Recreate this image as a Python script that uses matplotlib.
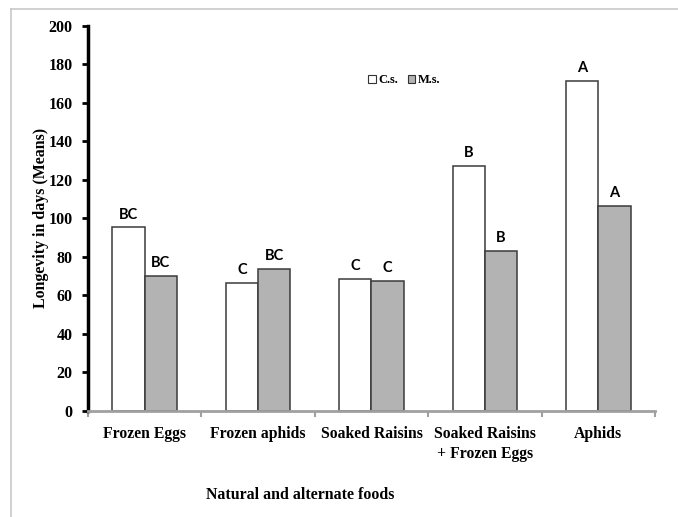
import numpy as np
import matplotlib.pyplot as plt
from matplotlib.lines import Line2D
from matplotlib.patches import Patch

# Data
foods = ["Frozen Eggs", "Frozen aphids", "Soaked Raisins",
         "Soaked Raisins\n+ Frozen Eggs", "Aphids"]
cs_means = [95.3, 66.4, 68.6, 127.2, 171.4]
ms_means = [70.2, 73.8, 67.4, 83.2, 106.6]
cs_letters = ["BC", "C", "C", "B", "A"]
ms_letters = ["BC", "BC", "C", "B", "A"]
series_names = ["C.s.", "M.s."]

W, H = 678, 517
fig = plt.figure(figsize=(W / 100, H / 100), dpi=100)
ax = fig.add_axes([88 / W, 1 - 410.6 / H, (655 - 88) / W, (410.6 - 26) / H])

x = np.arange(len(foods))
bw = 0.285
ax.bar(x - bw / 2, cs_means, bw, color="white", edgecolor="#3a3a3a", linewidth=1.1)
ax.bar(x + bw / 2, ms_means, bw, color="#b3b3b3", edgecolor="#3a3a3a", linewidth=1.1)

letter_font = dict(family="Lato", weight="bold", size=10.5, ha="center", va="bottom")
for i in range(len(foods)):
    ax.text(x[i] - bw / 2, cs_means[i] + 3, cs_letters[i], **letter_font)
    ax.text(x[i] + bw / 2, ms_means[i] + 3, ms_letters[i], **letter_font)

ax.set_xlim(-0.5, len(foods) - 0.5)
ax.set_ylim(0, 200)
ax.set_yticks(np.arange(0, 201, 20))

serif = dict(family="Liberation Serif", weight="bold")
ax.set_yticklabels([str(v) for v in range(0, 201, 20)], fontsize=11.5, **serif)

# category labels centred under groups, boundary ticks between groups
ax.set_xticks(np.arange(-0.5, len(foods)))
ax.set_xticklabels([])
ax.set_xticks(x, minor=True)
ax.set_xticklabels(foods, minor=True, fontsize=11.3, va="top", ha="center",
                   linespacing=1.35, **serif)
ax.tick_params(axis="x", which="minor", length=0, pad=11)
ax.tick_params(axis="x", which="major", length=4, width=1.5, color="#a0a0a0",
               direction="out")
ax.tick_params(axis="y", length=4, width=2, color="black", direction="out", pad=7)

for s in ["top", "right"]:
    ax.spines[s].set_visible(False)
ax.spines["left"].set_linewidth(2.5)
ax.spines["left"].set_color("black")
ax.spines["bottom"].set_linewidth(2)
ax.spines["bottom"].set_color("#a0a0a0")

ax.set_ylabel("Longevity in days (Means)", fontsize=11.4, labelpad=0, **serif)
fig.text(300 / W, 1 - 495 / H, "Natural and alternate foods", ha="center",
         va="center", fontsize=11.4, **serif)

handles = [Patch(facecolor="white", edgecolor="#333333", linewidth=0.8),
           Patch(facecolor="#b3b3b3", edgecolor="#333333", linewidth=0.8)]
ax.legend(handles, series_names, loc="center left",
          bbox_to_anchor=((362 - 88) / (655 - 88), (410.6 - 80) / (410.6 - 26)),
          ncol=2, frameon=False, handlelength=0.6, handleheight=0.6,
          handletextpad=0.2, columnspacing=0.8, borderpad=0,
          prop=dict(family="Liberation Serif", weight="bold", size=9))

# light grey frame on the top and left edges of the picture
fig.add_artist(Line2D([11 / W, 1], [1 - 9 / H, 1 - 9 / H], color="#c8c8c8", lw=1.2))
fig.add_artist(Line2D([11 / W, 11 / W], [0, 1 - 9 / H], color="#c8c8c8", lw=1.2))

fig.savefig("out.png", dpi=100)
